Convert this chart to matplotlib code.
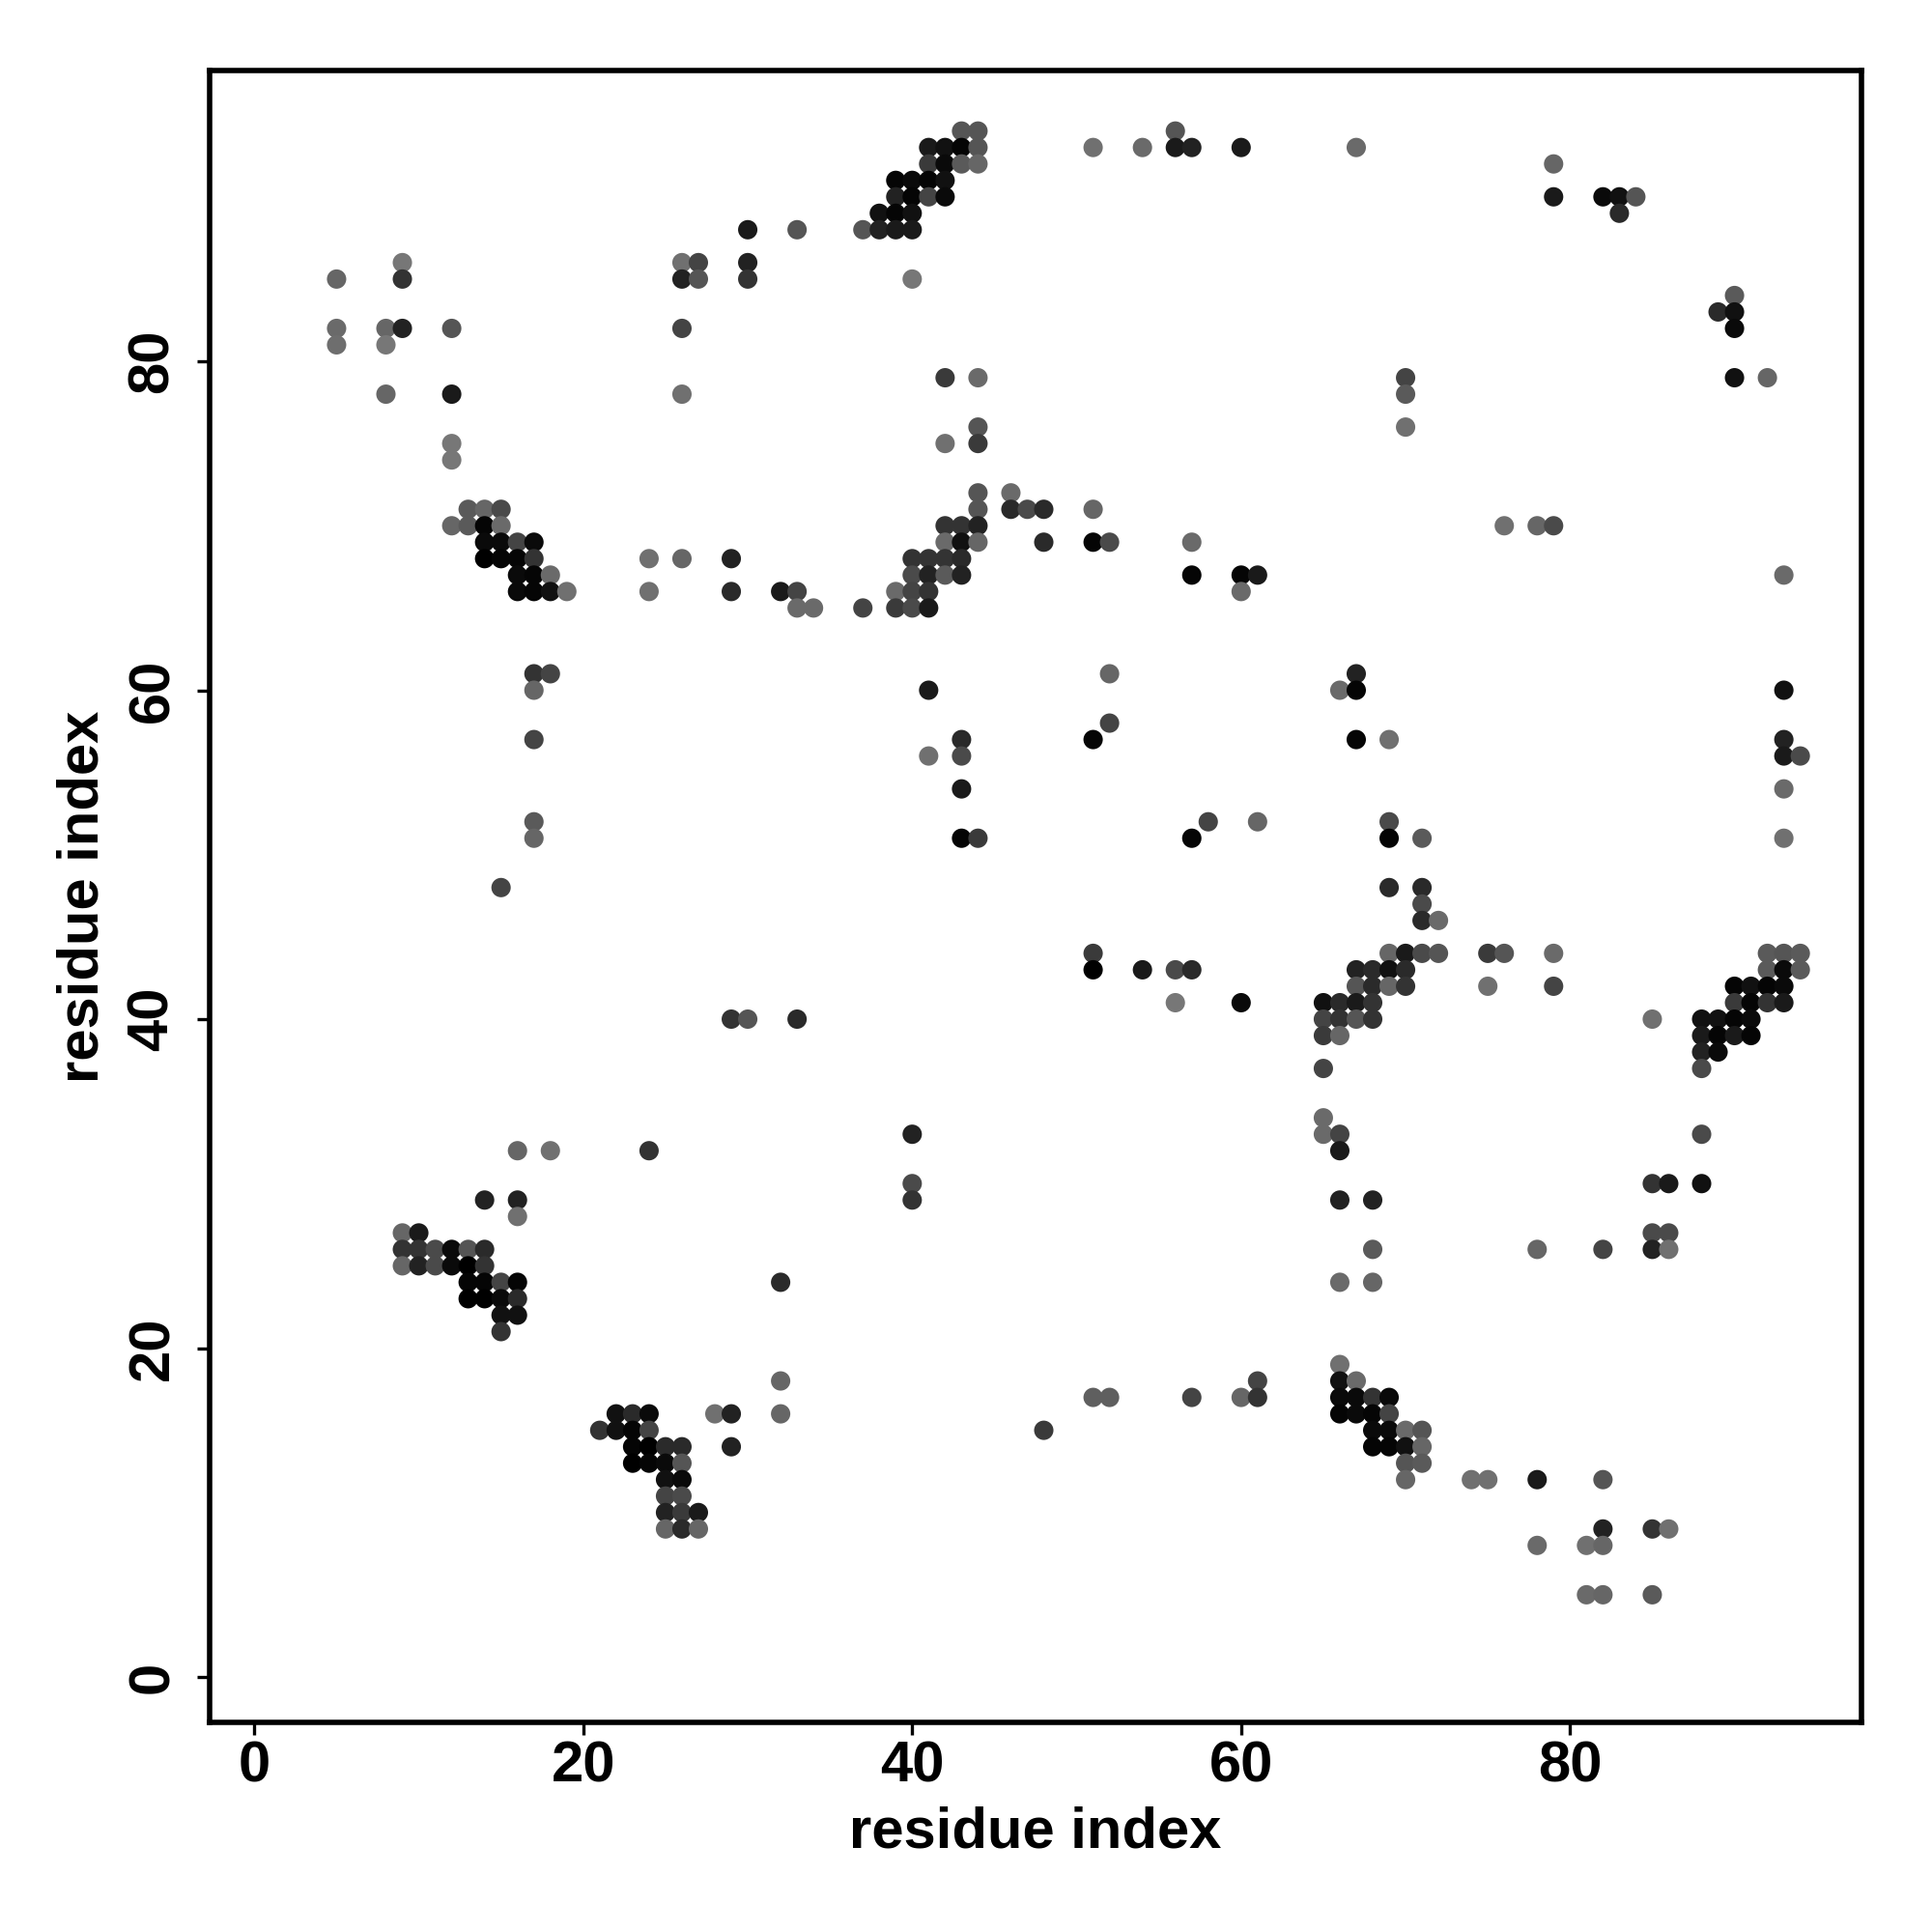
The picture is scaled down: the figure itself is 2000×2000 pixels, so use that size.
import matplotlib
matplotlib.use("Agg")
import matplotlib.pyplot as plt
import numpy as np

# residue i, residue j, grey level of the contact dot (0 = black, 255 = white)
res_i = [30, 9, 26, 27, 30, 5, 9, 26, 27, 30, 5, 8, 9, 12, 26, 5, 8, 8, 12, 26, 12, 12,
         43, 44, 41, 42, 43, 44, 51, 54, 56, 56, 57, 60, 41, 42, 43, 44, 39, 40, 41, 42, 39, 40, 41, 42,
         38, 39, 40, 33, 37, 38, 39, 40, 40, 42, 44, 44, 42, 44,
         67, 79, 79, 82, 83, 84, 83, 90, 89, 90, 90, 70, 70, 70, 90, 92,
         13, 14, 15, 12, 13, 14, 15, 14, 15, 16, 17, 14, 15, 16, 17, 16, 17, 18, 16, 17, 18, 19,
         24, 26, 29, 24, 29, 17, 18, 17, 17, 17, 17, 15,
         44, 46, 44, 46, 47, 48, 51, 42, 43, 44, 42, 43, 44, 48, 51, 52, 57, 40, 41, 42, 43, 40, 41, 42, 43,
         57, 60, 61, 60, 32, 33, 33, 34, 37, 39, 40, 41, 39, 40, 41, 41, 52, 52, 51, 43, 41, 43, 43, 43, 44,
         58, 61, 57,
         76, 78, 79, 93, 67, 66, 67, 67, 69, 93, 93, 93, 94, 93, 93, 69, 69, 71, 69, 71, 71,
         29, 30, 16, 18, 24, 14, 16, 16, 9, 10, 9, 10, 11, 12, 13, 14, 9, 10, 11, 12, 13, 14,
         13, 14, 15, 16, 13, 14, 15, 16, 15, 16,
         15, 22, 23, 24, 21, 22, 23, 24, 23, 24, 25, 26, 23, 24, 25, 26, 25, 26, 25, 26, 25, 26, 27,
         25, 26, 27, 28, 29, 29,
         33, 51, 51, 54, 56, 57, 56, 60, 40, 40, 40, 32,
         71, 72, 69, 70, 71, 72, 75, 76, 79, 67, 68, 69, 70, 67, 68, 69, 70, 75, 79, 65, 66, 67, 68,
         65, 66, 67, 68, 65, 66, 65, 65, 65, 66, 66, 66, 68, 68, 66, 68, 78, 82, 85, 86, 85, 86,
         85, 86, 88, 88, 85, 92, 93, 94, 92, 93, 94, 90, 91, 92, 93, 90, 91, 92, 93, 88, 89, 90, 91,
         88, 89, 90, 91, 88, 89, 88,
         32, 32, 48, 51, 52, 57, 60, 61, 61,
         66, 66, 67, 66, 67, 68, 69, 66, 67, 68, 69, 68, 69, 70, 71, 68, 69, 70, 71, 70, 71, 70,
         74, 75, 78, 82, 82, 85, 86, 78, 81, 82, 81, 82, 85]

res_j = [88, 86, 86, 86, 86, 85, 85, 85, 85, 85, 82, 82, 82, 82, 82, 81, 81, 78, 78, 78, 75, 74,
         94, 94, 93, 93, 93, 93, 93, 93, 94, 93, 93, 93, 92, 92, 92, 92, 91, 91, 91, 91, 90, 90, 90, 90,
         89, 89, 89, 88, 88, 88, 88, 88, 85, 79, 79, 76, 75, 75,
         93, 92, 90, 90, 90, 90, 89, 84, 83, 83, 82, 79, 78, 76, 79, 79,
         71, 71, 71, 70, 70, 70, 70, 69, 69, 69, 69, 68, 68, 68, 68, 67, 67, 67, 66, 66, 66, 66,
         68, 68, 68, 66, 66, 61, 61, 60, 57, 52, 51, 48,
         72, 72, 71, 71, 71, 71, 71, 70, 70, 70, 69, 69, 69, 69, 69, 69, 69, 68, 68, 68, 68, 67, 67, 67, 67,
         67, 67, 67, 66, 66, 66, 65, 65, 65, 66, 66, 66, 65, 65, 65, 60, 61, 58, 57, 57, 56, 56, 54, 51, 51,
         52, 52, 51,
         70, 70, 70, 67, 61, 60, 60, 57, 57, 60, 57, 56, 56, 54, 51, 52, 51, 51, 48, 48, 47,
         40, 40, 32, 32, 32, 29, 29, 28, 27, 27, 26, 26, 26, 26, 26, 26, 25, 25, 25, 25, 25, 25,
         24, 24, 24, 24, 23, 23, 23, 23, 22, 22,
         21, 16, 16, 16, 15, 15, 15, 15, 14, 14, 14, 14, 13, 13, 13, 13, 12, 12, 11, 11, 10, 10, 10,
         9, 9, 9, 16, 16, 14,
         40, 44, 43, 43, 43, 43, 41, 41, 33, 30, 29, 24,
         46, 46, 44, 44, 44, 44, 44, 44, 44, 43, 43, 43, 43, 42, 42, 42, 42, 42, 42, 41, 41, 41, 41,
         40, 40, 40, 40, 39, 39, 37, 34, 33, 33, 32, 29, 29, 26, 24, 24, 26, 26, 27, 27, 26, 26,
         30, 30, 30, 33, 40, 44, 44, 44, 43, 43, 43, 42, 42, 42, 42, 41, 41, 41, 41, 40, 40, 40, 40,
         39, 39, 39, 39, 38, 38, 37,
         18, 16, 15, 17, 17, 17, 17, 18, 17,
         19, 18, 18, 17, 17, 17, 17, 16, 16, 16, 16, 15, 15, 15, 15, 14, 14, 14, 14, 13, 13, 12,
         12, 12, 12, 12, 9, 9, 9, 8, 8, 8, 5, 5, 5]

grey_level = [26, 119, 112, 68, 34, 102, 51, 34, 85, 51, 106, 102, 34, 85, 68, 110, 119, 102, 26, 112, 119, 119,
              85, 85, 26, 17, 5, 85, 112, 106, 85, 26, 34, 26, 58, 10, 90, 102, 5, 10, 5, 17, 34, 5, 68, 10,
              17, 5, 17, 85, 85, 34, 26, 26, 119, 58, 106, 85, 112, 58,
              106, 102, 26, 10, 17, 85, 42, 90, 42, 17, 10, 68, 90, 112, 17, 102,
              90, 102, 74, 102, 90, 5, 106, 10, 10, 68, 10, 0, 5, 5, 51, 10, 5, 106, 10, 5, 17, 112,
              112, 102, 34, 112, 42, 51, 68, 102, 68, 90, 102, 68,
              85, 106, 85, 42, 74, 42, 102, 51, 51, 34, 106, 17, 102, 42, 5, 74, 106, 51, 51, 51, 42, 74, 34, 90, 34,
              5, 5, 26, 106, 26, 68, 106, 106, 68, 106, 68, 51, 58, 74, 26, 26, 102, 68, 5, 42, 112, 74, 26, 5, 58,
              68, 102, 5,
              112, 102, 74, 106, 34, 106, 5, 5, 112, 17, 34, 26, 74, 106, 112, 74, 5, 90, 42, 42, 74,
              51, 85, 102, 112, 51, 34, 34, 112, 102, 26, 51, 51, 74, 10, 85, 42, 102, 34, 74, 10, 0, 51,
              5, 5, 68, 5, 0, 0, 10, 42, 17, 17,
              51, 17, 42, 10, 51, 17, 5, 68, 5, 0, 42, 42, 0, 5, 10, 85, 17, 10, 68, 74, 34, 58, 26,
              102, 42, 102, 112, 34, 34,
              42, 58, 0, 26, 74, 42, 119, 10, 34, 74, 51, 42,
              42, 106, 102, 26, 74, 85, 58, 85, 106, 34, 42, 17, 42, 85, 42, 102, 51, 112, 68, 17, 42, 26, 51,
              68, 51, 85, 51, 58, 102, 68, 106, 106, 68, 26, 34, 34, 90, 106, 102, 102, 68, 74, 74, 34, 112,
              51, 26, 17, 74, 112, 90, 85, 90, 90, 10, 90, 5, 17, 5, 10, 58, 5, 51, 26, 17, 17, 5, 10,
              26, 5, 26, 5, 34, 10, 74,
              102, 102, 58, 95, 95, 68, 102, 68, 51,
              112, 17, 106, 10, 10, 51, 10, 5, 10, 5, 68, 10, 10, 106, 85, 5, 5, 17, 102, 85, 90, 102,
              112, 112, 26, 85, 34, 51, 112, 106, 112, 102, 106, 102, 90]

tick_values = [0, 20, 40, 60, 80]
x_label = "residue index"
y_label = "residue index"

plt.rcParams['font.family'] = ['Liberation Sans', 'DejaVu Sans']
plt.rcParams['font.weight'] = 'bold'

fig = plt.figure(figsize=(10, 10), dpi=200)
ax = fig.add_axes([0.1085, 0.1085, 0.855, 0.855])

colors = [(g / 255.0, g / 255.0, g / 255.0) for g in grey_level]
ax.scatter(res_i, res_j, s=52, c=colors, marker='o', linewidths=0, zorder=3)

ax.set_xlim(-2.72, 97.72)
ax.set_ylim(-2.76, 97.68)

for sp in ax.spines.values():
    sp.set_linewidth(2.0)
    sp.set_color('black')

ax.set_xticks(tick_values)
ax.set_yticks(tick_values)
ax.set_xticklabels([str(v) for v in tick_values], fontsize=21.5, fontweight='bold')
ax.set_yticklabels([str(v) for v in tick_values], fontsize=21.5, fontweight='bold',
                   rotation=90, va='center', ha='right')
ax.tick_params(axis='both', direction='out', length=4.7, width=1.2, color='black')
ax.tick_params(axis='x', pad=2)
ax.tick_params(axis='y', pad=6.5)

ax.set_xlabel(x_label, fontsize=21.5, fontweight='bold')
ax.xaxis.label.set_va('baseline')
ax.xaxis.set_label_coords(0.5, -0.076)
ax.set_ylabel(y_label, fontsize=21.5, fontweight='bold')
ax.yaxis.label.set_va('baseline')
ax.yaxis.set_label_coords(-0.0673, 0.5)

fig.savefig("out.png", dpi=200, facecolor='white')
